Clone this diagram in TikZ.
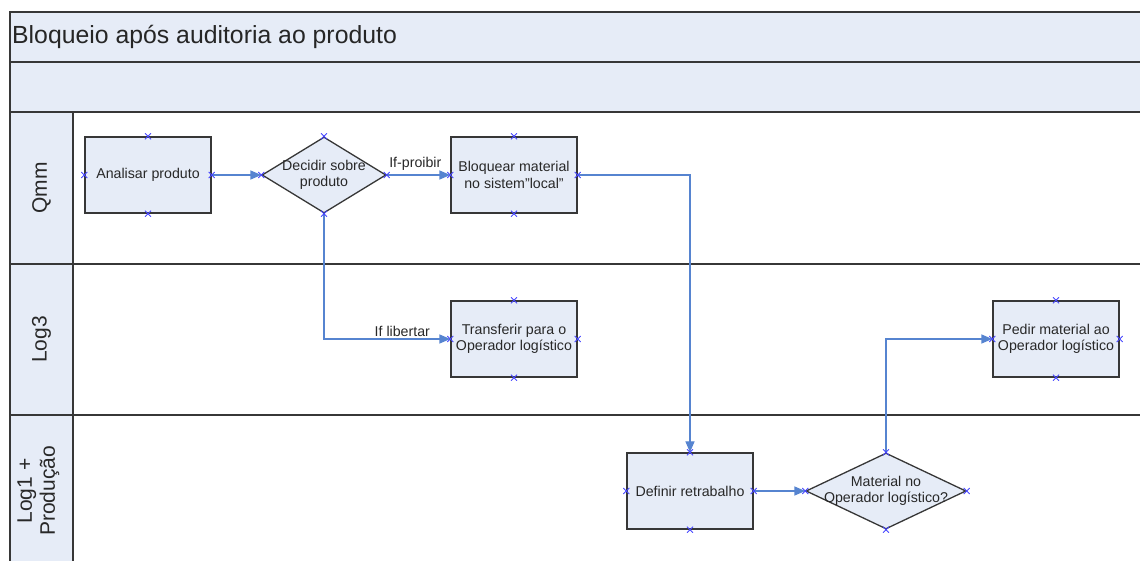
\documentclass[tikz,border=0pt]{standalone}
\usepackage{fontspec}
\setmainfont{Liberation Sans}
\usetikzlibrary{arrows.meta,shapes.geometric}
\definecolor{paneblue}{RGB}{230,236,247}
\definecolor{edgeline}{RGB}{55,55,55}
\definecolor{flowblue}{RGB}{86,132,208}
\definecolor{portblue}{RGB}{70,70,255}
\definecolor{txtgray}{RGB}{40,40,40}

\begin{document}
\begin{tikzpicture}[x=1bp,y=-1bp,
  lane/.style={draw=edgeline, line width=1.4bp},
  box/.style={draw=edgeline, line width=1.3bp, fill=paneblue,
    minimum width=126bp, minimum height=76bp, inner sep=2bp,
    align=center, text=txtgray, font=\fontsize{14.2bp}{16.5bp}\selectfont},
  dec/.style={diamond, draw=edgeline, line width=1.3bp, fill=paneblue,
    inner sep=0pt, minimum width=#1, minimum height=76bp},
  dtxt/.style={align=center, text=txtgray, inner sep=0pt,
    font=\fontsize{14.2bp}{16.5bp}\selectfont},
  elabel/.style={text=txtgray, inner sep=1.5bp,
    font=\fontsize{14.2bp}{16.5bp}\selectfont},
  lanelbl/.style={rotate=90, align=center, text=txtgray, inner sep=0pt,
    font=\fontsize{21bp}{23bp}\selectfont},
  flow/.style={draw=flowblue, line width=1.3bp,
    -{Triangle[length=11bp,width=9bp]}},
  portmark/.pic={\draw[portblue, line width=0.9bp]
    (-3,-3) -- (3,3) (-3,3) -- (3,-3);}
]
\path[use as bounding box] (0,0) rectangle (1140,561);

% pool header bands and lane header column
\fill[paneblue] (10,12) rectangle (1140,112);
\fill[paneblue] (10,112) rectangle (73,561);
\draw[lane, line width=1.7bp] (10,561) -- (10,12) -- (1140,12);
\draw[lane] (10,62) -- (1140,62);
\draw[lane] (10,112) -- (1140,112);
\draw[lane] (10,264) -- (1140,264);
\draw[lane] (10,415) -- (1140,415);
\draw[lane] (73,112) -- (73,561);

\node[anchor=west, inner sep=0pt, text=black!85,
  font=\fontsize{24.8bp}{28bp}\selectfont] (title) at (12,37)
  {Bloqueio após auditoria ao produto};

% lane names
\node[lanelbl] (qmm) at (41.5,188) {Qmm};
\node[lanelbl] (log3) at (41.5,339.5) {Log3};
\node[lanelbl] (log1) at (38.5,491) {Log1 +\\Produção};

% process steps
\node[box] (ana) at (148,175) {Analisar produto};
\node[dec=124bp, label={[dtxt]center:{Decidir sobre\\produto}}] (dec1) at (324,175) {};
\node[box] (blq) at (514,175) {Bloquear material\\no sistem"local"};
\node[box] (trf) at (514,339) {Transferir para o\\Operador logístico};
\node[box] (ped) at (1056,339) {Pedir material ao\\Operador logístico};
\node[box] (def) at (690,491) {Definir retrabalho};
\node[dec=160bp, label={[dtxt]center:{Material no\\Operador logístico?}}] (mat) at (886,491) {};

% flow connectors
\draw[flow] (ana.east) -- (dec1.west);
\draw[flow] (dec1.east) -- node[elabel, anchor=south, pos=0.45, yshift=2bp] (lp) {If-proibir} (blq.west);
\draw[flow] (dec1.south) |- node[elabel, anchor=south, pos=0.81] (ll) {If libertar} (trf.west);
\draw[flow] (blq.east) -| (def.north);
\draw[flow] (def.east) -- (mat.west);
\draw[flow] (mat.north) |- (ped.west);

% connection points
\foreach \n in {ana,dec1,blq,trf,ped,def,mat}
  \foreach \a in {north,south,east,west}
    \pic at (\n.\a) {portmark};
\end{tikzpicture}
\end{document}
